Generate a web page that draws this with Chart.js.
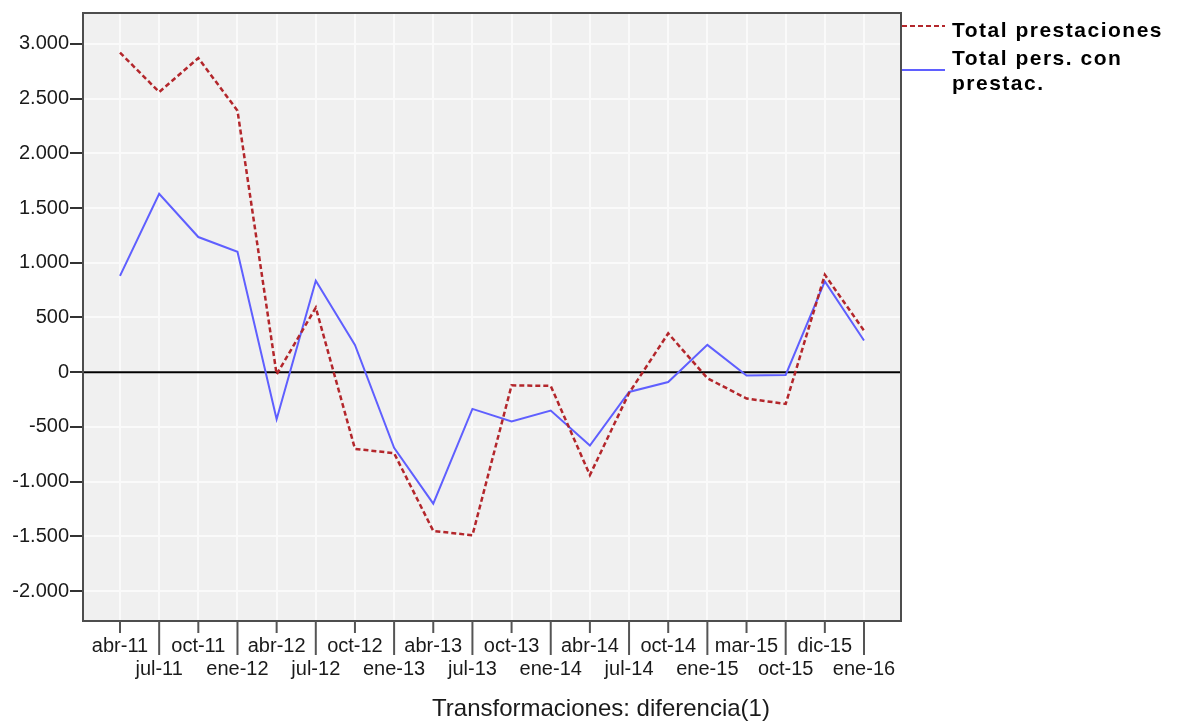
<!DOCTYPE html>
<html lang="es">
<head>
<meta charset="utf-8">
<title>Transformaciones: diferencia(1)</title>
<script src="https://cdn.jsdelivr.net/npm/chart.js@4.4.1/dist/chart.umd.min.js"></script>
<style>
	html, body { margin: 0; padding: 0; background: #ffffff; }
	#wrap { position: relative; width: 1180px; height: 722px; }
</style>
</head>
<body>
<div id="wrap"><canvas id="chart"></canvas></div>
<script>
const categories = [
	'abr-11', 'jul-11', 'oct-11', 'ene-12', 'abr-12', 'jul-12', 'oct-12', 'ene-13', 'abr-13', 'jul-13',
	'oct-13', 'ene-14', 'abr-14', 'jul-14', 'oct-14', 'ene-15', 'mar-15', 'oct-15', 'dic-15', 'ene-16',
];

const totalPrestaciones = [
	2920, 2560, 2870, 2390, -20, 590, -700, -740, -1450, -1490,
	-120, -125, -940, -190, 355, -55, -240, -290, 890, 380,
];

const totalPersonas = [
	880, 1630, 1235, 1100, -430, 835, 250, -690, -1200, -335,
	-450, -350, -670, -180, -90, 250, -30, -25, 830, 290,
];

const yTicks = [-2000, -1500, -1000, -500, 0, 500, 1000, 1500, 2000, 2500, 3000];

const legendItems = [
	{ lines: ['Total prestaciones'], color: '#b3262b', dash: [5, 3] },
	{ lines: ['Total pers. con', 'prestac.'], color: '#5f5fff', dash: [] },
];

const toPoints = (values) => values.map((y, x) => ({ x, y }));

const spssFrame = {
	id: 'spssFrame',
	beforeDraw(chart) {
		const { ctx, chartArea: a } = chart;
		ctx.save();
		ctx.fillStyle = '#f0f0f0';
		ctx.fillRect(a.left, a.top, a.right - a.left, a.bottom - a.top);
		ctx.restore();
	},
	beforeDatasetsDraw(chart) {
		const { ctx, chartArea: a, scales } = chart;
		ctx.save();

		// zero reference line
		const zero = scales.y.getPixelForValue(0);
		ctx.strokeStyle = '#000000';
		ctx.lineWidth = 2;
		ctx.beginPath();
		ctx.moveTo(a.left, zero);
		ctx.lineTo(a.right, zero);
		ctx.stroke();

		// frame
		ctx.strokeStyle = '#4d4d4d';
		ctx.lineWidth = 2;
		ctx.strokeRect(a.left, a.top, a.right - a.left, a.bottom - a.top);

		// x ticks: short under the first row, long for the second row
		ctx.strokeStyle = '#555555';
		ctx.lineWidth = 2;
		categories.forEach((_, i) => {
			const x = scales.x.getPixelForValue(i);
			ctx.beginPath();
			ctx.moveTo(x, a.bottom);
			ctx.lineTo(x, a.bottom + (i % 2 === 0 ? 12 : 34));
			ctx.stroke();
		});

		ctx.restore();
	},
	afterDraw(chart) {
		const { ctx, chartArea: a } = chart;
		ctx.save();

		// legend
		const lineStart = a.right + 1;
		const lineEnd = a.right + 44;
		const textX = a.right + 51;
		const rows = [
			{ lineY: 26, baselines: [37] },
			{ lineY: 70, baselines: [65, 90] },
		];

		ctx.font = 'bold 21px "Liberation Sans", Arial, sans-serif';
		ctx.letterSpacing = '1.5px';
		ctx.fillStyle = '#000000';
		ctx.textAlign = 'left';
		ctx.textBaseline = 'alphabetic';

		legendItems.forEach((item, i) => {
			ctx.strokeStyle = item.color;
			ctx.lineWidth = 2;
			ctx.setLineDash(item.dash);
			ctx.beginPath();
			ctx.moveTo(lineStart, rows[i].lineY);
			ctx.lineTo(lineEnd, rows[i].lineY);
			ctx.stroke();
			ctx.setLineDash([]);

			item.lines.forEach((text, j) => {
				ctx.fillText(text, textX, rows[i].baselines[j]);
			});
		});

		// axis caption
		ctx.letterSpacing = '0px';
		ctx.font = '24px "Liberation Sans", Arial, sans-serif';
		ctx.fillStyle = '#1a1a1a';
		ctx.textAlign = 'center';
		ctx.fillText('Transformaciones: diferencia(1)', 601, 716);

		ctx.restore();
	},
};

Chart.defaults.font.family = '"Liberation Sans", Arial, sans-serif';
Chart.defaults.color = '#1a1a1a';

new Chart(document.getElementById('chart'), {
	type: 'line',
	data: {
		datasets: [
			{
				label: 'Total prestaciones',
				data: toPoints(totalPrestaciones),
				borderColor: '#b3262b',
				borderWidth: 2.5,
				borderDash: [5, 3],
				pointRadius: 0,
				tension: 0,
				fill: false,
			},
			{
				label: 'Total pers. con prestac.',
				data: toPoints(totalPersonas),
				borderColor: '#5f5fff',
				borderWidth: 2,
				pointRadius: 0,
				tension: 0,
				fill: false,
			},
		],
	},
	options: {
		responsive: true,
		maintainAspectRatio: false,
		animation: false,
		layout: {
			padding: { top: 10, right: 279, bottom: 0, left: 0 },
		},
		plugins: {
			legend: { display: false },
			tooltip: { enabled: false },
		},
		scales: {
			x: {
				type: 'linear',
				min: -0.945,
				max: 19.945,
				afterBuildTicks: (scale) => {
					scale.ticks = categories.map((_, i) => ({ value: i }));
				},
				afterFit: (scale) => {
					scale.height = 101;
				},
				ticks: {
					autoSkip: false,
					maxRotation: 0,
					padding: 14,
					font: { size: 20, lineHeight: 1.15 },
					callback: (value) => (value % 2 === 0 ? [categories[value]] : ['', categories[value]]),
				},
				grid: {
					color: '#fafafa',
					lineWidth: 2,
					drawTicks: false,
				},
				border: { display: false },
			},
			y: {
				min: -2273,
				max: 3282,
				afterBuildTicks: (scale) => {
					scale.ticks = yTicks.map((value) => ({ value }));
				},
				afterFit: (scale) => {
					scale.width = 83;
				},
				ticks: {
					padding: 1,
					font: { size: 20 },
					callback: (value) => value.toLocaleString('de-DE'),
				},
				grid: {
					color: '#fafafa',
					lineWidth: 2,
					drawTicks: true,
					tickLength: 13,
					tickColor: '#333333',
					tickWidth: 2,
				},
				border: { display: false },
			},
		},
	},
	plugins: [spssFrame],
});
</script>
</body>
</html>
